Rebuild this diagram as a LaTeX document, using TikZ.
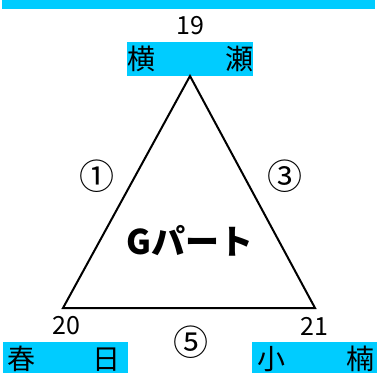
\documentclass[tikz,border=0pt]{standalone}
\usepackage{fontspec}
\setmainfont{Noto Sans CJK JP}
\definecolor{barcyan}{HTML}{00CCFF}
\begin{document}
\begin{tikzpicture}[x=1pt,y=-1pt,
  lbl/.style={inner sep=0pt, font=\fontsize{25}{25}\selectfont},
  circ/.style={inner sep=0pt, font=\fontsize{35}{35}\selectfont},
  namebox/.style={fill=barcyan, inner sep=0pt, minimum height=34pt, anchor=north west},
  edge/.style={line width=2pt, line join=miter}]
\useasboundingbox (0,0) rectangle (377,372);
\clip (0,0) rectangle (377,372);
\fill[barcyan] (2,0) rectangle (375,9);
\node[lbl] (n19) at (190,26) {19};
\node[namebox, minimum width=126pt] (yokose) at (127,42)
  {\fontsize{28}{28}\selectfont\makebox[126pt]{横\hfill 瀬}};
\coordinate (A) at (190,76);
\coordinate (B) at (63,308);
\coordinate (C) at (315,308);
\draw[edge] (A) -- (B) -- (C) -- cycle;
\node[circ] (c1) at (97,176) {①};
\node[circ] (c3) at (285,176) {③};
\node[inner sep=0pt, font=\fontsize{34}{34}\selectfont\bfseries] (g) at (190,241) {Gパート};
\node[lbl] (n20) at (66,326) {20};
\node[lbl] (n21) at (314,326) {21};
\node[circ] (c5) at (191,342) {⑤};
\node[namebox, minimum width=125pt] (kasuga) at (3,342)
  {\fontsize{28}{28}\selectfont\makebox[125pt]{\hspace{4pt}春\hfill 日\hspace{8pt}}};
\node[namebox, minimum width=125pt] (ogusu) at (252,342)
  {\fontsize{28}{28}\selectfont\makebox[125pt]{\hspace{5pt}小\hfill 楠\hspace{3pt}}};
\end{tikzpicture}
\end{document}
